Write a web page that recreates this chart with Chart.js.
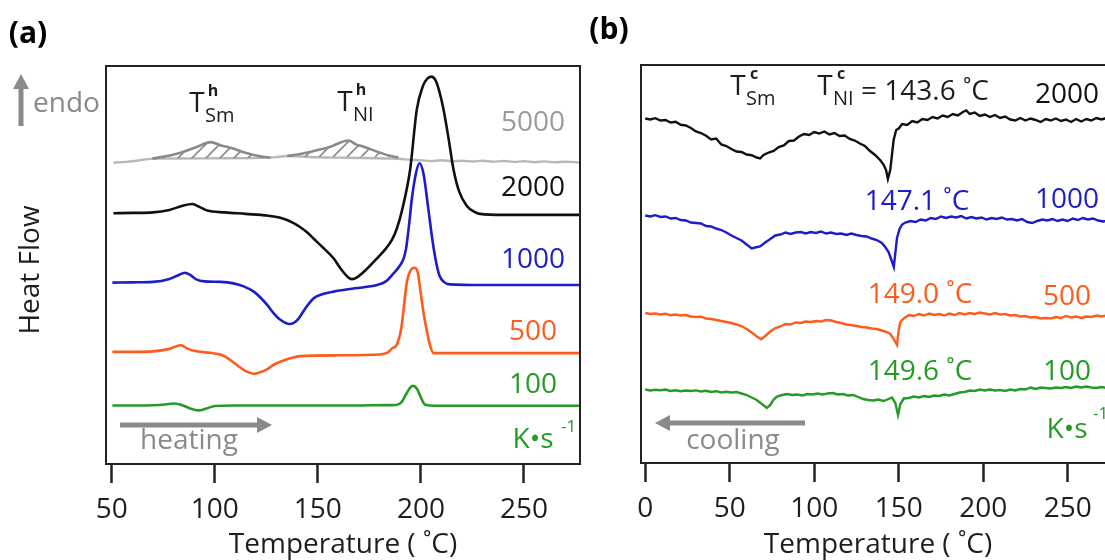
<!DOCTYPE html>
<html>
<head>
<meta charset="utf-8">
<script src="https://cdn.jsdelivr.net/npm/chart.js@4/dist/chart.umd.min.js"></script>
<style>
  html, body { margin: 0; padding: 0; background: #fff; overflow: hidden; }
  body { width: 1105px; height: 560px; position: relative; }
  #heat { position: absolute; left: 0; top: 0; }
  #cool { position: absolute; left: 590px; top: 0; }
</style>
</head>
<body>
<canvas id="heat" width="600" height="560"></canvas>
<canvas id="cool" width="540" height="560"></canvas>
<script>
// axis ticks
const heatTicks = [50, 100, 150, 200, 250];
const coolTicks = [0, 50, 100, 150, 200, 250];

// scan rates (K/s) and the N-I onset seen on cooling (deg C)
const heatRates = ["5000", "2000", "1000", "500", "100"];
const coolRates = ["2000", "1000", "500", "100"];
const coolNI = [143.6, 147.1, 149.0, 149.6];

// heating traces [T, heat flow + offset]
const heat5000 = [[50.8,303.5],[55,304.2],[60,305],[65,306.5],[70,307.7],[80,307.8],[100,308],[127,308.7],[131,309.5],[135,310.3],[150,309],[165,308.5],[189,307.5],[195,306.5],[200,306],[205,305.2],[210,306],[215,305],[220,305.6],[225,304.8],[230,305.5],[235,304.6],[240,305.3],[245,304.4],[250,305],[255,304.2],[260,304.9],[265,304],[270,304.6],[277,303.8]];
const peakSm5000 = [[69.7,307.7],[76,310],[83.4,313.7],[91.5,319.7],[98,324.3],[103,321],[107.6,318.7],[115.7,313],[122,310],[127,308.7]];
const peakNI5000 = [[135.1,310.3],[142,312.5],[148,315.3],[156,319.7],[164.9,326],[168.5,322],[172.2,319.7],[180.2,313.7],[185,310.5],[189.1,308.7]];
const heat2000 = [[50.8,252.7],[60,253],[70,253.5],[78,256],[84,260],[89,262],[93,258.5],[96.3,255.3],[105,253.5],[115,252],[125.4,250.3],[131.8,248],[138,243],[141.5,238.5],[145,233],[148,227],[152,219],[157.7,207],[161,197],[164.8,188],[166.5,186.3],[169,188],[173,195],[178.6,207],[183,217],[186,226],[188.3,237],[191,257],[194.8,297],[198,357],[201,381],[203,388],[205,390.3],[207,387],[209,375],[211,357],[213.5,327],[215.8,297],[218.5,275],[222.2,260.3],[226,254],[228.7,252],[240,251],[277,251]];
const heat1000 = [[50.3,182.7],[60,183],[70,183.5],[78,186.5],[82,190],[85.5,192.7],[88,190.5],[91,186],[95,184],[103,183.5],[109,182],[114,179],[118.9,173.7],[122,168],[125.4,160.3],[128.5,152],[131.8,145.3],[136.3,141],[140,145],[144,157],[148,167],[152,171],[157.6,173.7],[168,177],[178.6,180.3],[183,184],[186.7,192],[189.5,199],[191.6,207],[192.8,217],[194.2,240],[195.6,267],[197.5,292],[199.3,303],[201.3,292],[203.6,257],[205.5,227],[207.5,202],[209,190],[211,183.7],[214,181],[230,180.3],[277,180.3]];
const heat500 = [[50.3,113],[60,113],[70,113.5],[78,116],[83.4,119.7],[87,116],[90,114],[98,112],[103,110],[106,107],[109,102.5],[112.5,97],[115.5,93],[118.8,91],[122,92.5],[125.3,95.3],[129,100.5],[133.4,104.3],[137,106.8],[141.5,108.7],[160,109.5],[180,110.3],[184,112.5],[186,116.5],[188.3,120.3],[190.5,137],[193.2,183.7],[195,195],[196.9,197.7],[198.5,193],[199.6,177],[201.3,152],[202.9,133.7],[204.5,119],[206.1,111.7],[215,111.7],[277,111.7]];
const heat100 = [[50.3,59],[60,59],[70,59.2],[76,60],[80,61],[84,59.5],[88,56],[92,54],[96,56],[100,58.5],[110,59],[130,59],[150,59],[170,59],[182,59.3],[188,59.5],[190.5,62],[193,71],[195,77.5],[196.3,78.7],[198,76],[200,67],[201.8,60],[204,59],[220,58.7],[250,58.7],[277,58.7]];

// cooling traces [T, heat flow + offset]
const cool2000 = [[0,344.5],[3,343.5],[6,344.8],[9,342.5],[12,343],[15,340.5],[18,341.2],[21,338.2],[24,337.5],[27,335],[30,331.5],[33,330],[36,327.2],[39,323.5],[42,324.5],[45,318.5],[48,317],[51,314],[54,311.5],[57,311],[60,308.5],[63,307.8],[66,305.5],[68,304.5],[70,308],[73,310.5],[76,312],[79,316],[82,317.5],[85,322],[88,322.5],[91,326.5],[94,329],[97,328],[100,331],[103,329.5],[106,331.5],[109,328.5],[112,330],[115,327],[118,327.5],[121,324],[124,322.5],[127,319.5],[130,317],[133,312],[136,308],[139,303],[141,298.5],[142.5,293],[coolNI[0],284],[145,293],[146,308],[147,323],[148.5,333],[150,334.5],[152,339],[155,338],[158,342],[161,340.5],[164,344],[167,343],[170,346],[173,344.5],[176,347.5],[179,346],[182,349],[185,347.5],[188,351],[190,352.5],[192,349],[195,350.5],[198,347],[201,348.5],[204,346],[207,348],[210,345],[213,346.5],[216,343.5],[219,342.5],[222,345],[225,342.5],[228,344.5],[231,343],[234,341],[237,344],[240,342.5],[243,344.5],[246,342],[249,343.5],[252,341],[255,344],[258,341.5],[261,344],[264,342.5],[267,345],[270,343.5],[273,345],[276,344]];
const cool1000 = [[0,247.5],[3,246.5],[6,247.8],[9,246],[12,246.5],[15,244.5],[18,245],[21,243],[24,242.5],[27,240.5],[30,240],[33,239.5],[36,237],[39,236.5],[42,234.5],[45,233],[48,230.5],[51,227.5],[54,225],[57,222.5],[60,218.5],[63,214.5],[65,215.5],[68,216.5],[71,220.5],[74,224],[77,227.5],[80,228.5],[83,230.5],[86,229],[89,230.5],[92,231],[95,229.5],[98,231],[101,230],[104,231.5],[107,229.5],[110,230.5],[113,229],[116,229.5],[119,228],[122,229.5],[125,228],[128,227],[131,226.5],[134,224.5],[137,223],[140,220],[142,216],[144,211],[145.5,204],[coolNI[1],196],[148,210],[149,225],[150.5,234],[152,238.5],[154,240.5],[157,242],[160,241],[163,243.5],[166,242.5],[169,245],[172,244],[175,246.5],[178,245],[181,246.5],[184,245.5],[187,247],[190,244.5],[193,246],[196,244.5],[199,245.5],[202,243.5],[205,245],[208,244],[211,245.5],[214,243.5],[217,244],[220,242.5],[223,244],[226,241],[229,240],[232,242],[235,243.5],[238,242.5],[241,244],[244,242],[247,243.5],[250,242],[253,244.5],[256,243],[259,245],[262,243.5],[265,244.5],[268,242.5],[271,241.5],[274,242.5],[277,241.5]];
const cool500 = [[0,150],[3,149],[6,149.5],[9,148.5],[12,149.2],[15,147.8],[18,148.5],[21,147.5],[24,148],[27,146.5],[30,146],[33,146.3],[36,144.5],[39,144],[42,143],[45,142],[48,141],[51,140],[54,138.5],[57,137],[60,134],[63,130.5],[66,126.5],[68.6,123.7],[71,127],[74,131.5],[77,135],[80,136.5],[83,139],[86,138.5],[89,140.5],[92,140],[95,141.5],[98,141],[101,142],[104,141.5],[107,143],[110,142.5],[113,141],[116,140],[119,138.5],[122,138],[125,137],[128,136],[131,135.5],[134,134.5],[137,134],[140,132.5],[143,131],[145,129],[147,124],[coolNI[2],118],[150,133],[151,141],[153,144.5],[156,148],[159,147],[162,149],[165,147.5],[168,149.5],[171,148],[174,149],[177,147.5],[180,149.5],[183,148],[186,150],[189,148.5],[192,150],[195,149],[198,150.5],[201,149.5],[204,148.5],[207,150],[210,148.5],[213,149],[216,147.5],[219,148],[222,146.5],[225,147],[228,145.5],[231,146],[234,144.5],[237,145],[240,144.5],[243,146],[246,145],[249,147],[252,145.5],[255,146.5],[258,145],[261,146.5],[264,146],[267,147.5],[270,146.5],[273,147.5],[276,146.5]];
const cool100 = [[0,73.5],[3,72.5],[6,73.2],[9,72.8],[12,73.5],[15,72],[18,72.8],[21,71.8],[24,72.5],[27,72],[30,72.6],[33,71.5],[36,72.2],[39,71],[42,71.8],[45,70.5],[48,71.2],[51,70.5],[54,71],[57,69.5],[60,68],[63,65.5],[66,63],[69,59],[72,55],[74,58],[76,63.5],[78,66.5],[81,68],[84,69],[87,68],[90,68.5],[93,67.5],[96,69],[99,68.5],[102,69.5],[105,68.5],[108,69.5],[111,70],[114,68.5],[117,69],[120,67.5],[123,68],[126,66],[129,64],[132,63],[135,62.5],[138,63.5],[141,62],[144,64],[146,65.5],[148,60],[coolNI[3],48],[151,59],[153,64.5],[156,65],[159,66.5],[162,65.5],[165,67],[168,66],[171,67.5],[174,67],[177,68.5],[180,67.5],[183,69],[186,70.5],[189,71],[192,72.5],[195,72],[198,73.5],[201,72.5],[204,73.5],[207,72.5],[210,73],[213,72],[216,73.5],[219,72.5],[222,74],[225,73.5],[228,75.5],[231,74],[234,75.5],[237,75],[240,74.5],[243,75.5],[246,75],[249,76],[252,75],[255,76.5],[258,75.5],[261,76.5],[264,75.5],[267,75],[270,76],[273,75],[276,75.5]];

const FONT = "'Open Sans', 'Noto Sans', sans-serif";
const INK = "#1e1e1e";
const BLACK = "#111111", BLUE = "#1c1cc8", ORANGE = "#ff5b1c", GREEN = "#259a25";
const LIGHT = "#b8b8b8", MID = "#8a8a8a", LABEL_GRAY = "#9a9a9a";

const pts = arr => arr.map(([x, y]) => ({ x, y }));

function trace(data, color, extra = {}) {
  return Object.assign({
    data: pts(data), borderColor: color, borderWidth: 2.6,
    pointRadius: 0, fill: false, order: 0
  }, extra);
}

// diagonal hatch used to shade the small 5000 K/s peaks
function hatch() {
  const c = document.createElement("canvas");
  c.width = c.height = 14;
  const g = c.getContext("2d");
  g.strokeStyle = MID;
  g.lineWidth = 1.6;
  g.beginPath();
  g.moveTo(-7, 7); g.lineTo(7, -7);
  g.moveTo(0, 14); g.lineTo(14, 0);
  g.moveTo(7, 21); g.lineTo(21, 7);
  g.stroke();
  return g.createPattern(c, "repeat");
}

function text(ctx, s, x, y, color, size, opt = {}) {
  ctx.save();
  ctx.font = (opt.bold ? "bold " : "") + size + "px " + FONT;
  ctx.fillStyle = color;
  ctx.textAlign = opt.align || "center";
  ctx.textBaseline = "middle";
  ctx.fillText(s, x, y);
  ctx.restore();
}

function arrow(ctx, x0, y0, x1, y1, color) {
  const a = Math.atan2(y1 - y0, x1 - x0), head = 15, half = 8;
  const bx = x1 - head * Math.cos(a), by = y1 - head * Math.sin(a);
  ctx.save();
  ctx.strokeStyle = color; ctx.fillStyle = color; ctx.lineWidth = 5;
  ctx.beginPath(); ctx.moveTo(x0, y0); ctx.lineTo(bx, by); ctx.stroke();
  ctx.beginPath();
  ctx.moveTo(x1, y1);
  ctx.lineTo(bx + half * Math.sin(a), by - half * Math.cos(a));
  ctx.lineTo(bx - half * Math.sin(a), by + half * Math.cos(a));
  ctx.closePath(); ctx.fill();
  ctx.restore();
}

// T with a bold superscript and a subscript, e.g. T^h_Sm
function tLabel(ctx, x, y, sup, sub) {
  text(ctx, "T", x, y, INK, 28);
  text(ctx, sup, x + 16, y - 13, INK, 16, { bold: true });
  text(ctx, sub, x + 8, y + 12, INK, 20, { align: "left" });
}

const frame = {
  id: "frame",
  afterDatasetsDraw(chart) {
    const { ctx, chartArea: a } = chart;
    ctx.save();
    ctx.strokeStyle = "#222";
    ctx.lineWidth = 2;
    ctx.strokeRect(a.left, a.top, a.right - a.left, a.bottom - a.top);
    ctx.restore();
  }
};

function xAxis(min, max, ticks, height) {
  return {
    type: "linear", min, max,
    afterBuildTicks: s => { s.ticks = ticks.map(v => ({ value: v })); },
    afterFit: s => { s.height = height; },
    grid: { drawOnChartArea: false, drawTicks: true, tickLength: 19, tickWidth: 2.5, tickColor: "#222" },
    border: { display: false },
    ticks: { font: { family: FONT, size: 28 }, color: INK, padding: 10, maxRotation: 0, autoSkip: false },
    title: { display: true, text: "Temperature ( ˚C)", color: INK, padding: 0,
             font: { family: FONT, size: 28, lineHeight: 1.1 } }
  };
}

function baseOptions(pad, x, ymax) {
  return {
    responsive: false, animation: false, devicePixelRatio: 1,
    layout: { padding: pad },
    plugins: { legend: { display: false }, tooltip: { enabled: false } },
    scales: { x, y: { display: false, min: 0, max: ymax } }
  };
}

const heatNotes = {
  id: "heatNotes",
  afterDraw(chart) {
    const ctx = chart.ctx;
    text(ctx, "(a)", 28, 34, "#000", 30, { bold: true });
    arrow(ctx, 21, 126, 21, 74, MID);
    text(ctx, "endo", 33, 104, MID, 28, { align: "left" });
    ctx.save();
    ctx.translate(31, 270);
    ctx.rotate(-Math.PI / 2);
    text(ctx, "Heat Flow", 0, 0, INK, 28);
    ctx.restore();
    tLabel(ctx, 197, 104, "h", "Sm");
    tLabel(ctx, 345, 103, "h", "NI");
    const colors = [LABEL_GRAY, BLACK, BLUE, ORANGE, GREEN];
    const ys = [123, 188, 260, 332, 385];
    heatRates.forEach((r, i) => text(ctx, r, 533, ys[i], colors[i], 28));
    text(ctx, "K•s", 533, 440, GREEN, 28);
    text(ctx, "-1", 561, 427, GREEN, 17, { align: "left" });
    arrow(ctx, 120, 425, 272, 425, MID);
    text(ctx, "heating", 189, 441, MID, 28);
  }
};

const coolNotes = {
  id: "coolNotes",
  afterDraw(chart) {
    const ctx = chart.ctx;
    text(ctx, "(b)", 19, 30, "#000", 30, { bold: true });
    tLabel(ctx, 148, 87, "c", "Sm");
    tLabel(ctx, 235, 87, "c", "NI");
    text(ctx, "= " + coolNI[0].toFixed(1) + " ˚C", 271, 92, INK, 28, { align: "left" });
    text(ctx, coolNI[1].toFixed(1) + " ˚C", 327, 202, BLUE, 28);
    text(ctx, coolNI[2].toFixed(1) + " ˚C", 330, 295, ORANGE, 28);
    text(ctx, coolNI[3].toFixed(1) + " ˚C", 330, 372, GREEN, 28);
    const colors = [BLACK, BLUE, ORANGE, GREEN];
    const ys = [95, 200, 297, 372];
    coolRates.forEach((r, i) => text(ctx, r, 477, ys[i], colors[i], 28));
    text(ctx, "K•s", 477, 430, GREEN, 28);
    text(ctx, "-1", 503, 414, GREEN, 17, { align: "left" });
    arrow(ctx, 215, 423, 65, 423, MID);
    text(ctx, "cooling", 143, 441, MID, 28);
  }
};

const shade = hatch();

new Chart(document.getElementById("heat"), {
  type: "line",
  data: {
    datasets: [
      trace(heat100, GREEN),
      trace(heat500, ORANGE),
      trace(heat1000, BLUE),
      trace(heat2000, BLACK),
      trace(peakSm5000, MID, { borderWidth: 2.6, fill: { value: 308 }, backgroundColor: shade, order: 1 }),
      trace(peakNI5000, MID, { borderWidth: 2.6, fill: { value: 309.5 }, backgroundColor: shade, order: 1 }),
      trace(heat5000, LIGHT, { borderWidth: 2.4, order: 2 })
    ].map(d => Object.assign(d, { cubicInterpolationMode: "monotone" }))
  },
  options: baseOptions({ left: 106, right: 20, top: 66, bottom: 0 },
                       xAxis(47.2, 277.2, heatTicks, 96), 401),
  plugins: [frame, heatNotes]
});

new Chart(document.getElementById("cool"), {
  type: "line",
  data: {
    datasets: [
      trace(cool100, GREEN, { borderWidth: 2.4 }),
      trace(cool500, ORANGE, { borderWidth: 2.4 }),
      trace(cool1000, BLUE, { borderWidth: 2.4 }),
      trace(cool2000, BLACK, { borderWidth: 2.4 })
    ]
  },
  options: baseOptions({ left: 51, right: 15, top: 65, bottom: 0 },
                       xAxis(-2.5, 278, coolTicks, 97), 398),
  plugins: [frame, coolNotes]
});
</script>
</body>
</html>
